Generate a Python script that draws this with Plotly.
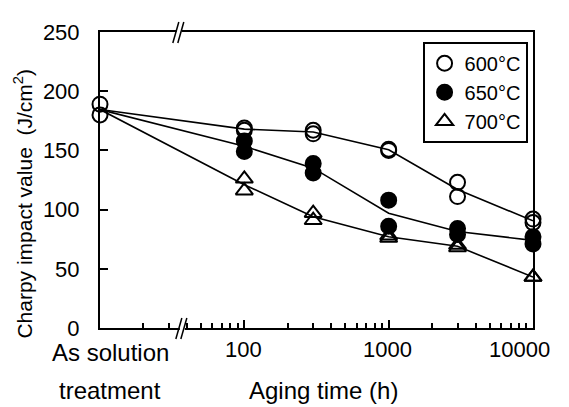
import numpy as np
import plotly.graph_objects as go

# ---- data ----
tick_vals = [10, 100, 1000, 10000]
tick_text = ["As solution<br>treatment", "100", "1000", "10000"]
tick_xshift = [10, -1, -1, -14]          # label nudges, pixels
minor_vals = [20, 30, 40, 50, 60, 70, 80, 90,
              200, 300, 400, 500, 600, 700, 800, 900,
              2000, 3000, 4000, 5000, 6000, 7000, 8000, 9000]
y_ticks = [0, 50, 100, 150, 200, 250]

as_solution_x = 10          # plotted position of the "As solution treatment" state
as_solution_vals = [189, 180]

aging_hours = [100, 300, 1000, 3000, 10000]
# two specimens per condition
t600_a = [169, 167, 151, 123, 92]
t600_b = [167, 164, 150, 111, 89]
t650_a = [158, 139, 108, 84, 77]
t650_b = [149, 131, 86, 79, 71]
t700_a = [126, 97, 78, 70, 43]
t700_b = [116, 91, 76, 68, 43]

series = [
    ("600°C", t600_a, t600_b, "circle-open"),
    ("650°C", t650_a, t650_b, "circle"),
    ("700°C", t700_a, t700_b, "triangle-up-open"),
]

FONT = "Arial, Liberation Sans, Helvetica, sans-serif"
fig = go.Figure()

as_mean = float(np.mean(as_solution_vals))
line_x = [as_solution_x] + aging_hours

# mean lines
for name, a, b, sym in series:
    means = [as_mean] + list((np.array(a) + np.array(b)) / 2.0)
    fig.add_trace(go.Scatter(x=line_x, y=means, mode="lines",
                             line=dict(color="black", width=1.6),
                             showlegend=False, hoverinfo="skip", cliponaxis=False))

# specimen markers
for name, a, b, sym in series:
    xs = aging_hours + aging_hours
    ys = a + b
    if name == "600°C":
        xs = [as_solution_x, as_solution_x] + xs
        ys = as_solution_vals + ys
    fig.add_trace(go.Scatter(
        x=xs, y=ys, mode="markers", name=name, cliponaxis=False,
        marker=dict(symbol=sym, size=15, color="black",
                    line=dict(color="black", width=2))))

# axis break marks (//) on bottom and top axis
for yanchor, xa in ((0, 0.189), (1, 0.182)):
    fig.add_shape(type="rect", xref="paper", yref="paper",
                  xsizemode="pixel", ysizemode="pixel",
                  xanchor=xa, yanchor=yanchor,
                  x0=-2, x1=3, y0=-3, y1=3,
                  fillcolor="white", line=dict(width=0), layer="above")
    for dx in (-3, 2):
        fig.add_shape(type="line", xref="paper", yref="paper",
                      xsizemode="pixel", ysizemode="pixel",
                      xanchor=xa, yanchor=yanchor,
                      x0=dx - 3, y0=-11, x1=dx + 3, y1=10,
                      line=dict(color="black", width=1.5), layer="above")

annotations = []
# x tick labels (one annotation per text line, to get the wide line spacing)
for v, txt, dx in zip(tick_vals, tick_text, tick_xshift):
    parts = txt.split("<br>")
    multi = len(parts) > 1
    for i, part in enumerate(parts):
        annotations.append(dict(text=part, xref="x", yref="paper",
                                x=float(np.log10(v)), y=0,
                                xanchor="center", yanchor="middle",
                                xshift=dx,
                                yshift=(-24 - 38 * i) if multi else -21,
                                showarrow=False,
                                font=dict(size=24 if multi else 22, family=FONT)))
annotations += [
    dict(text="Aging time (h)", xref="paper", yref="paper",
         x=0.517, y=0, xanchor="center", yanchor="middle",
         yshift=-62, showarrow=False, font=dict(size=24, family=FONT)),
    dict(text="Charpy impact value  (J/cm<sup>2</sup>)", xref="paper", yref="paper",
         x=-0.178, y=0.42, xanchor="center", yanchor="middle",
         textangle=-90, showarrow=False, font=dict(size=21, family=FONT)),
]

# page body has an 8px margin: size/margins compensate so the plot area
# lands at x 100..533, y 27..328 of the 569x407 window
fig.update_layout(
    width=561, height=399,
    margin=dict(l=92, r=36, t=19, b=79),
    paper_bgcolor="white", plot_bgcolor="white",
    font=dict(family=FONT, size=22, color="black"),
    showlegend=True,
    legend=dict(x=0.745, y=0.967, xanchor="left", yanchor="top",
                bordercolor="black", borderwidth=2, bgcolor="white",
                font=dict(size=20, family=FONT), tracegroupgap=0,
                itemwidth=30),
    xaxis=dict(type="log", range=[1, 4],
               tickvals=tick_vals, showticklabels=False,
               ticks="inside", ticklen=8, tickwidth=1.5, tickcolor="black",
               minor=dict(tickvals=minor_vals, ticks="inside", ticklen=5,
                          tickwidth=1.5, tickcolor="black", showgrid=False),
               showline=True, linecolor="black", linewidth=2, mirror=True,
               showgrid=False, zeroline=False),
    yaxis=dict(range=[0, 250], tickvals=y_ticks,
               ticks="inside", ticklen=8, tickwidth=1.5, tickcolor="black",
               showline=True, linecolor="black", linewidth=2, mirror=True,
               showgrid=False, zeroline=False, ticklabelstandoff=14,
               tickfont=dict(size=22, family=FONT)),
    annotations=annotations,
)

fig.write_html("out.html")
